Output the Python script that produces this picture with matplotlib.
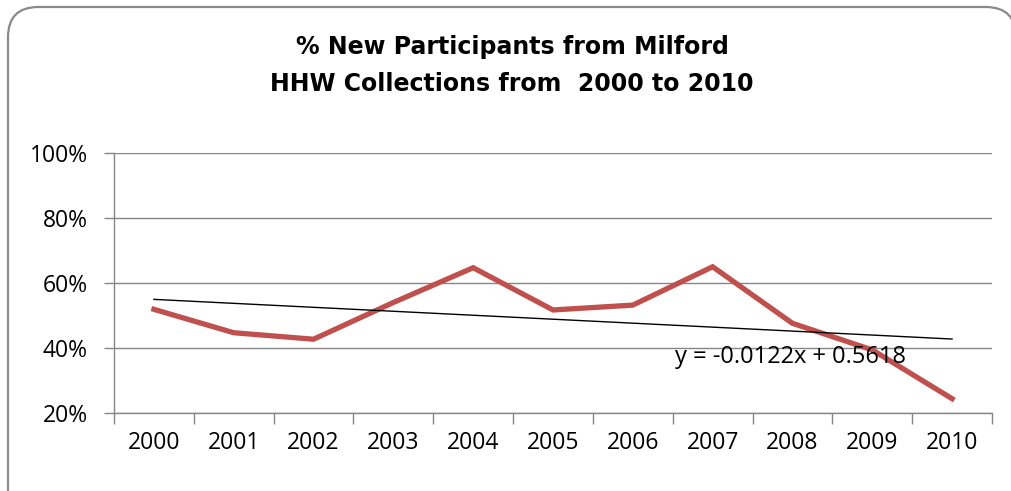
import numpy as np
import matplotlib.pyplot as plt
from matplotlib.patches import FancyBboxPatch
from matplotlib.ticker import FixedLocator, FuncFormatter

# Datos
years = ["2000", "2001", "2002", "2003", "2004", "2005",
         "2006", "2007", "2008", "2009", "2010"]
pct_new = [0.519, 0.447, 0.427, 0.540, 0.647, 0.517,
           0.532, 0.650, 0.476, 0.394, 0.244]
trend_slope = -0.0122
trend_intercept = 0.5618
trend_label = "y = -0.0122x + 0.5618"
y_ticks = [0.2, 0.4, 0.6, 0.8, 1.0]

W, H = 1012, 491
fig = plt.figure(figsize=(W / 100, H / 100), dpi=100)

# Marco redondeado del gráfico
frame = FancyBboxPatch((8 / W, -40 / H), (1016 - 8) / W, (H - 7 + 40) / H,
                       boxstyle="round,pad=0,rounding_size=0.03",
                       transform=fig.transFigure, facecolor="white",
                       edgecolor="#8a8a8a", linewidth=1.6,
                       mutation_aspect=W / H, zorder=-5)
fig.patches.append(frame)

ax = fig.add_axes([114 / W, 78 / H, (992 - 114) / W, 260 / H])
ax.set_zorder(2)
ax.set_facecolor("none")

x = np.arange(1, len(years) + 1)
ax.plot(x, pct_new, color="#C0504D", linewidth=3.8,
        solid_joinstyle="miter", zorder=3)

trend = trend_slope * x + trend_intercept
ax.plot(x, trend, color="black", linewidth=1.0, zorder=4)
ax.text(8.97, 0.372, trend_label, ha="center", va="center",
        fontsize=17, family="Open Sans", zorder=5)

ax.set_xlim(0.5, len(years) + 0.5)
ax.set_ylim(0.2, 1.0)

ax.yaxis.set_major_locator(FixedLocator(y_ticks))
ax.yaxis.set_major_formatter(FuncFormatter(lambda v, p: f"{v * 100:.0f}%"))
ax.grid(axis="y", color="#868686", linewidth=1.0)
ax.set_axisbelow(True)

ax.set_xticks(x)
ax.set_xticklabels(years)
ax.set_xticks(np.arange(0.5, len(years) + 1.0, 1.0), minor=True)
ax.tick_params(axis="x", which="major", length=0, pad=13)
ax.tick_params(axis="x", which="minor", length=8, color="#868686", width=1.0)
ax.tick_params(axis="y", length=7, color="#868686", width=1.0, pad=12)
for lab in ax.get_xticklabels() + ax.get_yticklabels():
    lab.set_fontsize(16.5)
    lab.set_family("Open Sans")

for side in ["top", "right"]:
    ax.spines[side].set_visible(False)
for side in ["left", "bottom"]:
    ax.spines[side].set_color("#868686")
    ax.spines[side].set_linewidth(1.0)

fig.text(512 / W, 1 - 47 / H, "% New Participants from Milford",
         ha="center", va="center", fontsize=17, fontweight="bold",
         family="DejaVu Sans")
fig.text(512 / W, 1 - 84 / H, "HHW Collections from  2000 to 2010",
         ha="center", va="center", fontsize=17, fontweight="bold",
         family="DejaVu Sans")

fig.savefig("out.png", dpi=100)
